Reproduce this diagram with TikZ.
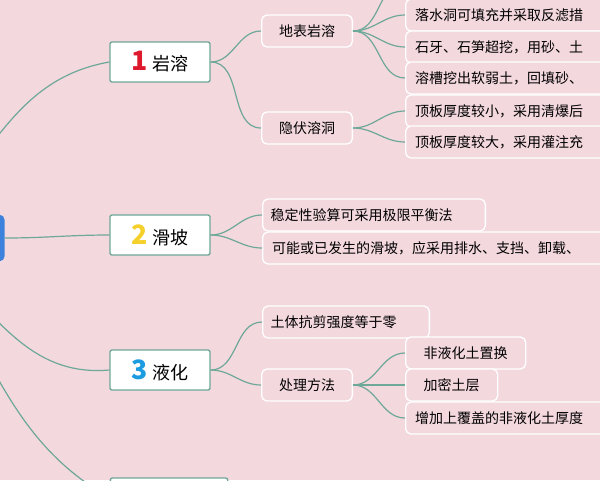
\documentclass[tikz,border=0pt]{standalone}
\usepackage{fontspec}
\setmainfont{Noto Sans CJK SC}
\usepackage{tikz}
\definecolor{bgpink}{RGB}{243,216,222}
\definecolor{branch}{RGB}{110,168,152}
\definecolor{rootblue}{RGB}{60,130,220}
\definecolor{numred}{RGB}{222,24,45}
\definecolor{numyellow}{RGB}{245,208,42}
\definecolor{numblue}{RGB}{27,155,224}
\tikzset{
  topic/.style={draw=branch, line width=1pt, fill=white, rounded corners=1.5pt,
    minimum width=75pt, minimum height=30pt, font=\fontsize{13.5}{15}\selectfont},
  sub/.style={draw=white, line width=1pt, fill=bgpink, rounded corners=4pt,
    minimum width=68pt, minimum height=24pt, font=\fontsize{10.5}{12}\selectfont},
  leaf/.style={sub, anchor=west, align=left, minimum width=200pt, text width=186pt},
  link/.style={draw=branch, line width=0.9pt}
}
\begin{document}
\begin{tikzpicture}[x=0.75pt, y=-0.75pt]
        % Background and page size
        \fill[bgpink] (0,0) rectangle (600,480);
        \useasboundingbox (0,0) rectangle (600,480);

        % Root, mostly off the page
        \node[fill=rootblue, rounded corners=4pt, minimum width=40pt, minimum height=35pt] (root) at (-22,238) {};
        \coordinate (hub) at (-90,238);

        % Main topics
        \node[topic] (yanrong) at (160,62) {\textcolor{numred}{\fontsize{20}{20}\selectfont\bfseries 1} 岩溶};
        \node[topic] (huapo) at (160,235) {\textcolor{numyellow}{\fontsize{20}{20}\selectfont\bfseries 2} 滑坡};
        \node[topic] (yehua) at (160,370) {\textcolor{numblue}{\fontsize{20}{20}\selectfont\bfseries 3} 液化};
        \node[topic, minimum width=88pt] (four) at (169,498) {};

        % Second level
        \node[sub] (dibiao) at (307,31) {地表岩溶};
        \node[sub] (yinfu) at (307,128) {隐伏溶洞};
        \node[sub, anchor=west, minimum width=167pt, align=left, text width=155pt] (wending) at (262,215) {稳定性验算可采用极限平衡法};
        \node[leaf, minimum width=300pt, text width=286pt] (keneng) at (262,248) {可能或已发生的滑坡，应采用排水、支挡、卸载、};
        \node[sub, anchor=west, minimum width=125pt, align=left, text width=113pt] (kangjian) at (262,322) {土体抗剪强度等于零};
        \node[sub] (chuli) at (307,385) {处理方法};
        \node[leaf, minimum width=260pt] (bottom) at (283,498) {};

        % Leaves
        \node[leaf] (top) at (405,-17) {};
        \node[leaf] (luoshui) at (405,15) {落水洞可填充并采取反滤措};
        \node[leaf] (shiya) at (405,47) {石牙、石笋超挖，用砂、土};
        \node[leaf] (rongcao) at (405,78) {溶槽挖出软弱土，回填砂、};
        \node[leaf] (dingxiao) at (405,111) {顶板厚度较小，采用清爆后};
        \node[leaf] (dingda) at (405,142) {顶板厚度较大，采用灌注充};
        \node[sub, anchor=west, minimum width=90pt, align=left] (zhihuan) at (405,353) {非液化土置换};
        \node[sub, anchor=west, minimum width=69pt, align=left] (jiami) at (405,385) {加密土层};
        \node[leaf] (zengjia) at (405,418) {增加上覆盖的非液化土厚度};

        % Connectors
        \draw[link] (hub) to[out=40, in=190] (yanrong.west);
        \draw[link] (root.east) to[out=0, in=180] (huapo.west);
        \draw[link] (hub) to[out=-35, in=185] (yehua.west);
        \draw[link] (hub) to[out=-50, in=150] (four.west);
        \foreach \a/\b in {yanrong/dibiao, yanrong/yinfu, huapo/wending, huapo/keneng,
                           yehua/kangjian, yehua/chuli} {
            \draw[link] (\a.east) to[out=0, in=180] (\b.west);
        }
        \foreach \b in {top, luoshui, shiya, rongcao} {
            \draw[link] (dibiao.east) to[out=0, in=180] (\b.west);
        }
        \foreach \b in {dingxiao, dingda} {
            \draw[link] (yinfu.east) to[out=0, in=180] (\b.west);
        }
        \foreach \b in {zhihuan, jiami, zengjia} {
            \draw[link] (chuli.east) to[out=0, in=180] (\b.west);
        }
    \end{tikzpicture}
\end{document}
